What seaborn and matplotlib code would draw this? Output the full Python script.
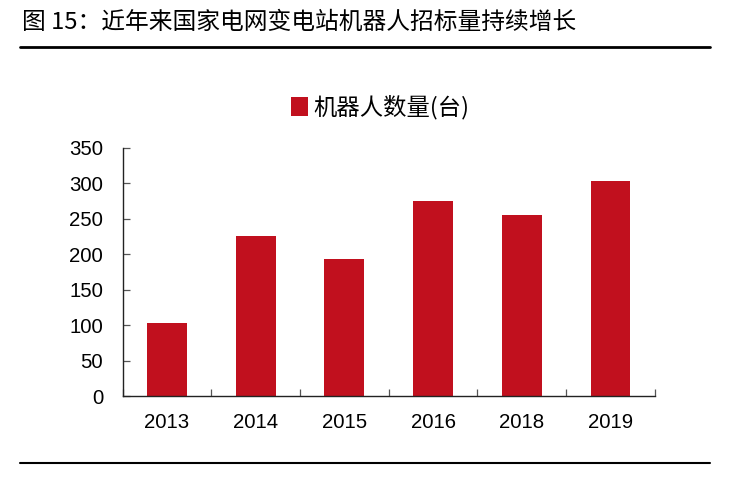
import matplotlib
matplotlib.use("Agg")
import matplotlib.pyplot as plt
import seaborn as sns
import pandas as pd
from matplotlib.patches import Patch
from matplotlib.lines import Line2D

years = ["2013", "2014", "2015", "2016", "2018", "2019"]
robots = [103, 225, 193, 275, 255, 303]
series_name = "机器人数量(台)"
title = "图 15：近年来国家电网变电站机器人招标量持续增长"
y_ticks = [0, 50, 100, 150, 200, 250, 300, 350]

sns.set_theme(style="white")
plt.rcParams['font.family'] = ['Liberation Sans', 'Noto Sans CJK SC', 'DejaVu Sans']

bar_color = "#C1101E"
df = pd.DataFrame({"year": years, "value": robots})

fig = plt.figure(figsize=(7.30, 4.94), dpi=100)
ax = fig.add_axes([0.168, 0.198, 0.729, 0.503])
sns.barplot(data=df, x="year", y="value", color=bar_color, width=0.45,
            saturation=1, ax=ax, edgecolor="none")

ax.set_ylim(0, 350)
ax.set_xlim(-0.5, len(years) - 0.5)
ax.set_yticks(y_ticks)
ax.set_yticklabels([str(t) for t in y_ticks], fontsize=14.7)
ax.set_xlabel("")
ax.set_ylabel("")
ax.tick_params(axis="x", which="major", length=0, labelsize=14.7, pad=12,
               labelcolor="black")
ax.tick_params(axis="y", which="major", length=5, width=0.9, color="#555555",
               direction="in", pad=14, left=True, labelcolor="black")
ax.set_xticks([i - 0.5 for i in range(len(years) + 1)], minor=True)
ax.tick_params(axis="x", which="minor", length=5, width=0.9, color="#555555",
               direction="in", bottom=True)
for s in ["top", "right"]:
    ax.spines[s].set_visible(False)
for s in ["left", "bottom"]:
    ax.spines[s].set_color("#222222")
    ax.spines[s].set_linewidth(1.0)

handles = [Patch(facecolor=bar_color, edgecolor="none")]
fig.legend(handles, [series_name], loc="center", bbox_to_anchor=(0.521, 0.783),
           frameon=False, handlelength=0.7, handleheight=0.9,
           handletextpad=0.25, labelcolor="black",
           prop={'family': ['Noto Sans CJK SC', 'DejaVu Sans'], 'size': 16.8})

fig.text(0.030, 0.955, title, fontsize=17.1, ha="left", va="center",
         family=['Noto Sans CJK SC', 'DejaVu Sans'], color="black")
fig.add_artist(Line2D([0.027, 0.973], [0.905, 0.905], color="black", linewidth=2,
                      transform=fig.transFigure))
fig.add_artist(Line2D([0.027, 0.973], [0.062, 0.062], color="black", linewidth=1.5,
                      transform=fig.transFigure))

fig.savefig("out.png", dpi=100)
